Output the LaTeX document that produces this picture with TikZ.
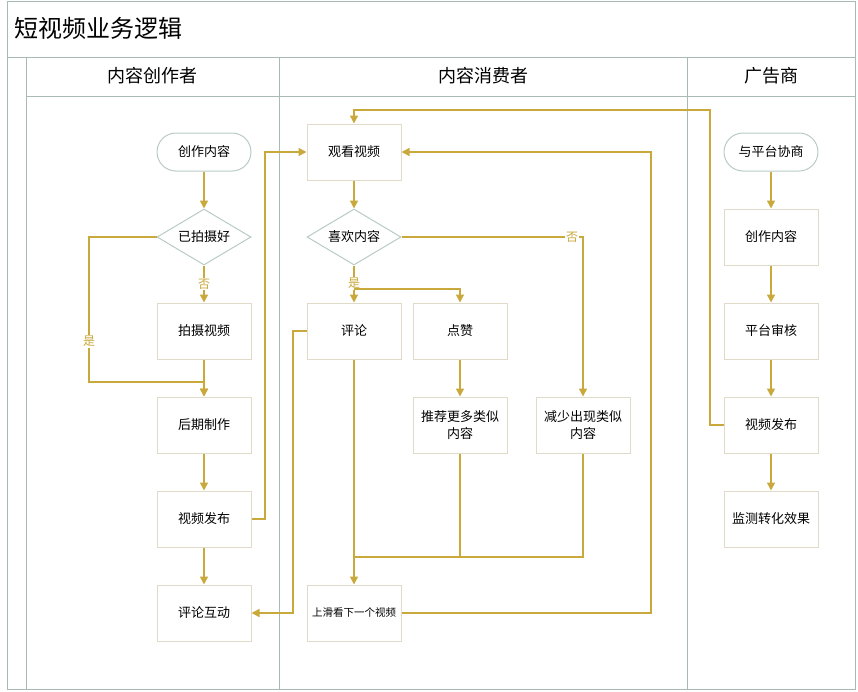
\documentclass[tikz,border=0pt]{standalone}
\usepackage{fontspec}
\setmainfont{Noto Sans CJK SC}
\usetikzlibrary{shapes.geometric,arrows.meta,calc}
\definecolor{flowc}{HTML}{C9A83C}
\definecolor{boxc}{HTML}{E0DBC8}
\definecolor{termc}{HTML}{B9CBC6}
\definecolor{lanec}{HTML}{A9BAB6}
\tikzset{
  box/.style={draw=boxc, line width=1pt, fill=white, minimum width=94pt, minimum height=56pt,
    text width=88pt, align=center, inner sep=0pt, font=\fontsize{13}{17}\selectfont},
  term/.style={box, draw=termc, minimum height=38pt, rounded corners=19pt},
  decision/.style={diamond, draw=termc, line width=1pt, fill=white, shape aspect=1.68,
    minimum width=94pt, minimum height=56pt, inner sep=0pt, font=\fontsize{13}{17}\selectfont},
  flow/.style={draw=flowc, line width=1.5pt, -{Triangle[width=8pt,length=8pt]}},
  line/.style={draw=flowc, line width=1.5pt},
  lbl/.style={fill=white, text=flowc, inner sep=1pt, font=\fontsize{12}{14}\selectfont},
  head/.style={font=\fontsize{18}{21}\selectfont}
}
\begin{document}
\begin{tikzpicture}[x=1pt, y=-1pt]
  \useasboundingbox (0, 0) rectangle (858, 691);
  % pool and lanes
  \draw[lanec, line width=1pt] (7, 1) rectangle (855, 689);
  \draw[lanec, line width=1pt] (7, 57) -- (855, 57);
  \draw[lanec, line width=1pt] (26, 96) -- (855, 96);
  \foreach \x in {26, 279, 687} {
    \draw[lanec, line width=1pt] (\x, 57) -- (\x, 689);
  }
  \node[anchor=west, font=\fontsize{24}{28}\selectfont] (title) at (11, 28) {短视频业务逻辑};
  \node[head] (h1) at (152, 76) {内容创作者};
  \node[head] (h2) at (483, 76) {内容消费者};
  \node[head] (h3) at (771, 76) {广告商};

  % content creator
  \node[term] (c1) at (204, 152) {创作内容};
  \node[decision] (c2) at (204, 237) {已拍摄好};
  \node[box] (c3) at (204, 331) {拍摄视频};
  \node[box] (c4) at (204, 425) {后期制作};
  \node[box] (c5) at (204, 519) {视频发布};
  \node[box] (c6) at (204, 613) {评论互动};

  % content consumer
  \node[box] (w1) at (354, 152) {观看视频};
  \node[decision] (w2) at (354, 237) {喜欢内容};
  \node[box] (w3) at (354, 331) {评论};
  \node[box] (w4) at (460, 331) {点赞};
  \node[box] (w5) at (460, 425) {推荐更多类似\\内容};
  \node[box] (w6) at (583, 425) {减少出现类似\\内容};
  \node[box, font=\fontsize{10.5}{12}\selectfont] (w7) at (354, 613) {上滑看下一个视频};

  % advertiser
  \node[term] (a1) at (771, 152) {与平台协商};
  \node[box] (a2) at (771, 237) {创作内容};
  \node[box] (a3) at (771, 331) {平台审核};
  \node[box] (a4) at (771, 425) {视频发布};
  \node[box] (a5) at (771, 519) {监测转化效果};

  \coordinate (j1) at (204, 382);
  \coordinate (j2) at (354, 289);
  \coordinate (j3) at (354, 557);

  % creator flow
  \draw[flow] (c1) -- (c2);
  \draw[flow] (c2) -- node[lbl]{否} (c3);
  \draw[flow] (c2.west) -- ++(-67.5, 0) |- node[lbl, pos=0.36]{是} (j1) -- (c4.north);
  \draw[flow] (c3) -- (c4);
  \draw[flow] (c4) -- (c5);
  \draw[flow] (c5) -- (c6);
  \draw[flow] (c5.east) -- ++(13.5, 0) |- (w1.west);

  % consumer flow
  \draw[flow] (w1) -- (w2);
  \draw[flow] (w2) -- node[lbl, pos=0.48]{是} (w3);
  \draw[flow] (j2) -| (w4.north);
  \draw[flow] (w2.east) -| node[lbl, pos=0.47]{否} (w6.north);
  \draw[flow] (w3) -- (w7);
  \draw[flow] (w4) -- (w5);
  \draw[line] (w5.south) |- (j3);
  \draw[line] (w6.south) |- (j3);
  \draw[flow] (w7.east) -- ++(249.5, 0) |- (w1.east);
  \draw[flow] (w3.west) -- ++(-13.5, 0) |- (c6.east);

  % advertiser flow
  \foreach \a/\b in {a1/a2, a2/a3, a3/a4, a4/a5} {
    \draw[flow] (\a) -- (\b);
  }
  \draw[flow] (a4.west) -- ++(-13.5, 0) |- ($(w1.north)+(0, -13.5)$) -- (w1.north);
\end{tikzpicture}
\end{document}
